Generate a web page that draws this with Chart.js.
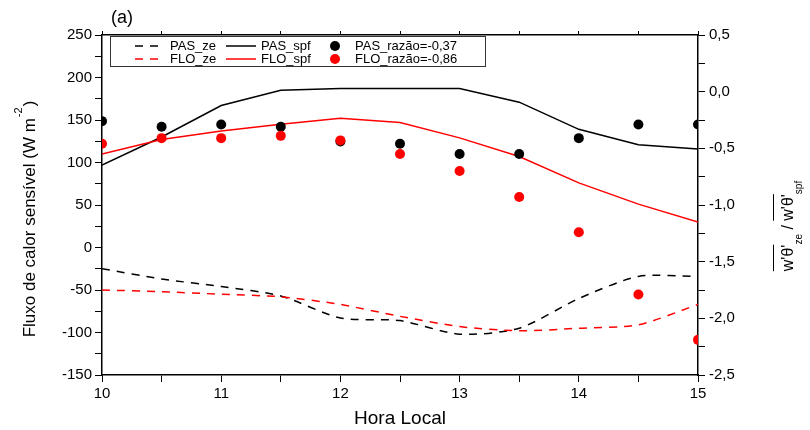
<!DOCTYPE html>
<html>
<head>
<meta charset="utf-8">
<script src="https://cdn.jsdelivr.net/npm/chart.js@4.4.1/dist/chart.umd.min.js"></script>
<style>
  body { margin: 0; background: #fff; }
  #wrap { width: 810px; height: 430px; }
</style>
</head>
<body>
<div id="wrap"><canvas id="fluxChart" width="810" height="430"></canvas></div>
<script>
// hora local
var hours = [10, 10.5, 11, 11.5, 12, 12.5, 13, 13.5, 14, 14.5, 15];
// fluxo de calor sensivel (W m-2), eixo esquerdo
var pasZe = [-25, -37, -46, -57, -83, -86, -102, -95, -60, -34, -34];
var floZe = [-50, -52, -55, -58, -67, -81, -93, -98, -95, -91, -67];
var pasSpf = [97, 130, 167, 185, 187, 187, 187, 171, 139, 121, 116];
var floSpf = [110, 127, 137, 145, 152, 147, 129, 107, 76, 51, 30];
// razao ze/spf, eixo direito
var pasRazao = [-0.26, -0.31, -0.29, -0.31, -0.44, -0.46, -0.55, -0.55, -0.41, -0.29, -0.29];
var floRazao = [-0.46, -0.41, -0.41, -0.39, -0.43, -0.55, -0.70, -0.93, -1.24, -1.79, -2.19];

var legendOrder = ['PAS_ze', 'PAS_spf', 'PAS_razão=-0,37', 'FLO_ze', 'FLO_spf', 'FLO_razão=-0,86'];

function pts(vals) {
    return vals.map(function (v, i) { return { x: hours[i], y: v }; });
}

Chart.defaults.font.family = "'Liberation Sans', Arial, sans-serif";
Chart.defaults.color = '#000';

// titulos, legenda e (a) desenhados a mao
var extras = {
    id: 'extras',
    afterDraw: function (chart) {
        var ctx = chart.ctx;
        var fam = "'Liberation Sans', Arial, sans-serif";
        ctx.save();
        ctx.fillStyle = '#000';

        // (a)
        ctx.font = '18px ' + fam;
        ctx.textBaseline = 'middle';
        ctx.fillText('(a)', 111, 18);

        // legenda
        ctx.strokeStyle = '#333';
        ctx.lineWidth = 1;
        ctx.strokeRect(110.5, 36.5, 375, 30);
        ctx.font = '13px ' + fam;
        var rows = [46, 59];
        var cols = [135, 226, 335];
        var textX = [170, 261, 355];
        legendOrder.forEach(function (lab, k) {
            var ds = chart.data.datasets.find(function (d) { return d.label === lab; });
            var r = Math.floor(k / 3), c = k % 3;
            var y = rows[r];
            ctx.strokeStyle = ds.borderColor;
            ctx.fillStyle = ds.borderColor;
            ctx.lineWidth = 1.5;
            if (c === 0) {
                ctx.setLineDash([8, 7]);
                ctx.beginPath(); ctx.moveTo(cols[0], y); ctx.lineTo(cols[0] + 23, y); ctx.stroke();
                ctx.setLineDash([]);
            } else if (c === 1) {
                ctx.beginPath(); ctx.moveTo(cols[1], y); ctx.lineTo(cols[1] + 30, y); ctx.stroke();
            } else {
                ctx.beginPath(); ctx.arc(cols[2], y, 5, 0, Math.PI * 2); ctx.fill();
            }
            ctx.fillStyle = '#000';
            ctx.textBaseline = 'middle';
            ctx.fillText(lab, textX[c], y);
        });

        // titulo eixo esquerdo
        ctx.save();
        ctx.translate(35, 220);
        ctx.rotate(-Math.PI / 2);
        ctx.textBaseline = 'alphabetic';
        var main = 'Fluxo de calor sensível (W m';
        ctx.font = '17px ' + fam;
        var w1 = ctx.measureText(main).width;
        ctx.font = '11px ' + fam;
        var w2 = ctx.measureText('-2').width;
        ctx.font = '17px ' + fam;
        var w3 = ctx.measureText(')').width;
        var x0 = -(w1 + w2 + w3) / 2;
        ctx.fillText(main, x0, 0);
        ctx.font = '11px ' + fam;
        ctx.fillText('-2', x0 + w1 + 1, -13);
        ctx.font = '17px ' + fam;
        ctx.fillText(')', x0 + w1 + w2 + 2, 0);
        ctx.restore();

        // titulo eixo direito
        ctx.save();
        ctx.translate(793, 226);
        ctx.rotate(-Math.PI / 2);
        ctx.textBaseline = 'alphabetic';
        var big = '16px ' + fam, small = '10px ' + fam;
        var parts = [
            { t: "w'θ'", f: big, dy: 0, bar: true },
            { t: 'ze', f: small, dy: 9, bar: false },
            { t: ' / ', f: big, dy: 0, bar: false },
            { t: "w'θ'", f: big, dy: 0, bar: true },
            { t: 'spf', f: small, dy: 9, bar: false }
        ];
        var total = 0;
        parts.forEach(function (p) { ctx.font = p.f; p.w = ctx.measureText(p.t).width; total += p.w; });
        var x = -total / 2;
        ctx.strokeStyle = '#000';
        ctx.lineWidth = 1;
        parts.forEach(function (p) {
            ctx.font = p.f;
            ctx.fillText(p.t, x, p.dy);
            if (p.bar) {
                ctx.beginPath(); ctx.moveTo(x, -19.5); ctx.lineTo(x + p.w, -19.5); ctx.stroke();
            }
            x += p.w;
        });
        ctx.restore();

        ctx.restore();
    }
};

function fixWidth(w) { return function (s) { s.width = w; }; }
function fixHeight(h) { return function (s) { s.height = h; }; }

var tickGrid = { drawOnChartArea: false, drawTicks: true, tickLength: 7, color: '#000', tickColor: '#000', tickWidth: 1 };
var axisBorder = { color: '#000', width: 1.5 };

var ctx = document.getElementById('fluxChart').getContext('2d');
var fluxChart = new Chart(ctx, {
    type: 'line',
    data: {
        datasets: [
            {
                label: 'FLO_razão=-0,86', data: pts(floRazao), yAxisID: 'y2', showLine: false,
                borderColor: '#ff0000', backgroundColor: '#ff0000', pointRadius: 5, pointBorderWidth: 0, order: 0, clip: 0
            },
            {
                label: 'PAS_razão=-0,37', data: pts(pasRazao), yAxisID: 'y2', showLine: false,
                borderColor: '#000000', backgroundColor: '#000000', pointRadius: 5, pointBorderWidth: 0, order: 1, clip: 0
            },
            {
                label: 'FLO_spf', data: pts(floSpf), yAxisID: 'y', borderColor: '#ff0000', borderWidth: 1.5,
                pointRadius: 0, tension: 0, order: 2, clip: 0
            },
            {
                label: 'PAS_spf', data: pts(pasSpf), yAxisID: 'y', borderColor: '#000000', borderWidth: 1.5,
                pointRadius: 0, tension: 0, order: 3, clip: 0
            },
            {
                label: 'FLO_ze', data: pts(floZe), yAxisID: 'y', borderColor: '#ff0000', borderWidth: 1.5,
                borderDash: [8, 7], pointRadius: 0, tension: 0.25, order: 4, clip: 0
            },
            {
                label: 'PAS_ze', data: pts(pasZe), yAxisID: 'y', borderColor: '#000000', borderWidth: 1.5,
                borderDash: [8, 7], pointRadius: 0, tension: 0.25, order: 5, clip: 0
            }
        ]
    },
    options: {
        responsive: false,
        animation: false,
        layout: { padding: 0 },
        plugins: {
            legend: { display: false },
            tooltip: { enabled: false }
        },
        scales: {
            x: {
                type: 'linear', position: 'bottom', min: 10, max: 15,
                grid: tickGrid, border: axisBorder,
                ticks: {
                    stepSize: 0.5, autoSkip: false, maxRotation: 0, padding: 3,
                    font: { size: 15 },
                    callback: function (v) { return Number.isInteger(v) ? String(v) : ''; }
                },
                title: { display: true, text: 'Hora Local', font: { size: 19 }, padding: { top: 5, bottom: 0 } },
                afterFit: fixHeight(55)
            },
            x2: {
                type: 'linear', position: 'top', min: 10, max: 15,
                grid: { drawOnChartArea: false, drawTicks: true, tickLength: 4, color: '#000', tickColor: '#000' },
                border: axisBorder,
                ticks: { stepSize: 0.5, autoSkip: false, callback: function () { return ''; } },
                afterFit: fixHeight(35)
            },
            y: {
                type: 'linear', position: 'left', min: -150, max: 250,
                grid: tickGrid, border: axisBorder,
                ticks: {
                    stepSize: 25, autoSkip: false, padding: 3, font: { size: 15 },
                    callback: function (v) { return v % 50 === 0 ? String(v) : ''; }
                },
                afterFit: fixWidth(102)
            },
            y2: {
                type: 'linear', position: 'right', min: -2.5, max: 0.5,
                grid: tickGrid, border: axisBorder,
                ticks: {
                    stepSize: 0.25, autoSkip: false, padding: 4, font: { size: 15 },
                    callback: function (v) {
                        if (Math.abs(v * 2 - Math.round(v * 2)) > 1e-6) return '';
                        return v.toFixed(1).replace('.', ',');
                    }
                },
                afterFit: fixWidth(112)
            }
        }
    },
    plugins: [extras]
});
</script>
</body>
</html>
